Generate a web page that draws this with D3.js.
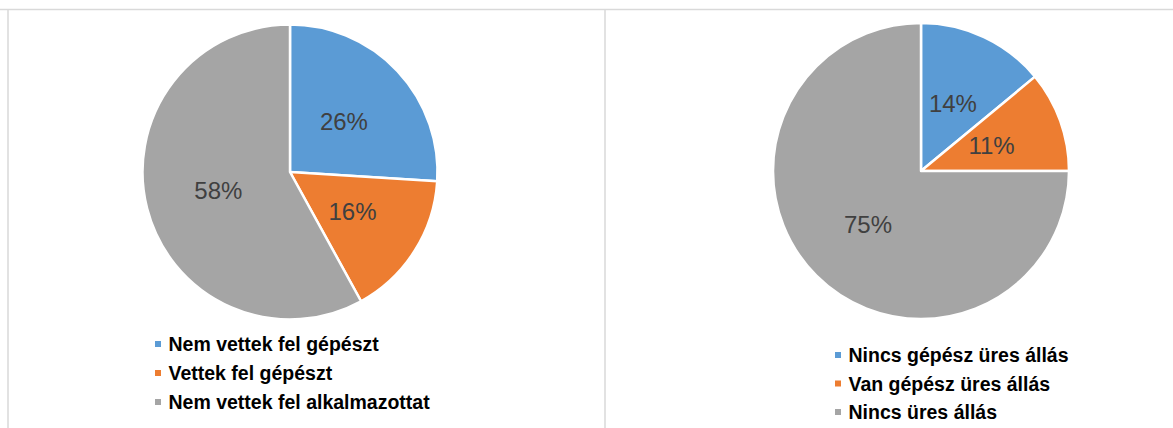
<!DOCTYPE html>
<html>
<head>
<meta charset="utf-8">
<script src="https://cdn.jsdelivr.net/npm/d3@7"></script>
<style>
  html, body { margin: 0; padding: 0; background: #fff; }
  svg { display: block; font-family: "Liberation Sans", Arial, sans-serif; }
</style>
</head>
<body>
<svg id="chart" width="1173" height="428"></svg>
<script>
// Data
const leftCategories = ["Nem vettek fel gépészt", "Vettek fel gépészt", "Nem vettek fel alkalmazottat"];
const leftValues = [26, 16, 58];
const rightCategories = ["Nincs gépész üres állás", "Van gépész üres állás", "Nincs üres állás"];
const rightValues = [14, 11, 75];
const colors = ["#5B9BD5", "#ED7D31", "#A5A5A5"];

const svg = d3.select("#chart");

// Frame lines
svg.append("line").attr("x1", 0).attr("x2", 1173).attr("y1", 9.5).attr("y2", 9.5)
  .attr("stroke", "#d9d9d9").attr("stroke-width", 1.5);
svg.append("line").attr("x1", 8).attr("x2", 8).attr("y1", 9.5).attr("y2", 428)
  .attr("stroke", "#d9d9d9").attr("stroke-width", 1.5);
svg.append("line").attr("x1", 605).attr("x2", 605).attr("y1", 9.5).attr("y2", 428)
  .attr("stroke", "#d9d9d9").attr("stroke-width", 1.5);

function drawPie(cfg) {
  const g = svg.append("g").attr("transform", `translate(${cfg.cx},${cfg.cy})`);
  const pie = d3.pie().sort(null).value(d => d.value);
  const arcs = pie(cfg.cats.map((c, i) => ({ cat: c, value: cfg.vals[i] })));
  const arc = d3.arc().innerRadius(0).outerRadius(cfg.r);
  const labelArc = d3.arc().innerRadius(cfg.lr).outerRadius(cfg.lr);
  const color = d3.scaleOrdinal().domain(cfg.cats).range(colors);

  g.selectAll("path").data(arcs).join("path")
    .attr("d", arc)
    .attr("fill", d => color(d.data.cat))
    .attr("stroke", "#fff")
    .attr("stroke-width", 2.5)
    .attr("stroke-linejoin", "round");

  g.selectAll("text.lbl").data(arcs).join("text")
    .attr("class", "lbl")
    .attr("transform", d => `translate(${labelArc.centroid(d)})`)
    .attr("text-anchor", "middle")
    .attr("dominant-baseline", "central")
    .attr("font-size", 24)
    .attr("fill", "#404040")
    .text(d => Math.round(d.data.value) + "%");

  const lg = svg.append("g").attr("transform", `translate(${cfg.lx},${cfg.ly})`);
  const rows = lg.selectAll("g").data(cfg.cats).join("g")
    .attr("transform", (d, i) => `translate(0,${i * cfg.lstep})`);
  rows.append("rect").attr("x", -3).attr("y", -3).attr("width", 6).attr("height", 6)
    .attr("fill", d => color(d));
  rows.append("text").attr("x", 10.5).attr("y", 0)
    .attr("dominant-baseline", "central")
    .attr("font-size", 19.5).attr("font-weight", "bold").attr("fill", "#000")
    .text(d => d);
}

drawPie({ cats: leftCategories, vals: leftValues, cx: 290, cy: 172, r: 147.5, lr: 74,
          lx: 158, ly: 344, lstep: 29 });
drawPie({ cats: rightCategories, vals: rightValues, cx: 921, cy: 171, r: 148, lr: 75,
          lx: 838, ly: 355, lstep: 28.5 });
</script>
</body>
</html>
